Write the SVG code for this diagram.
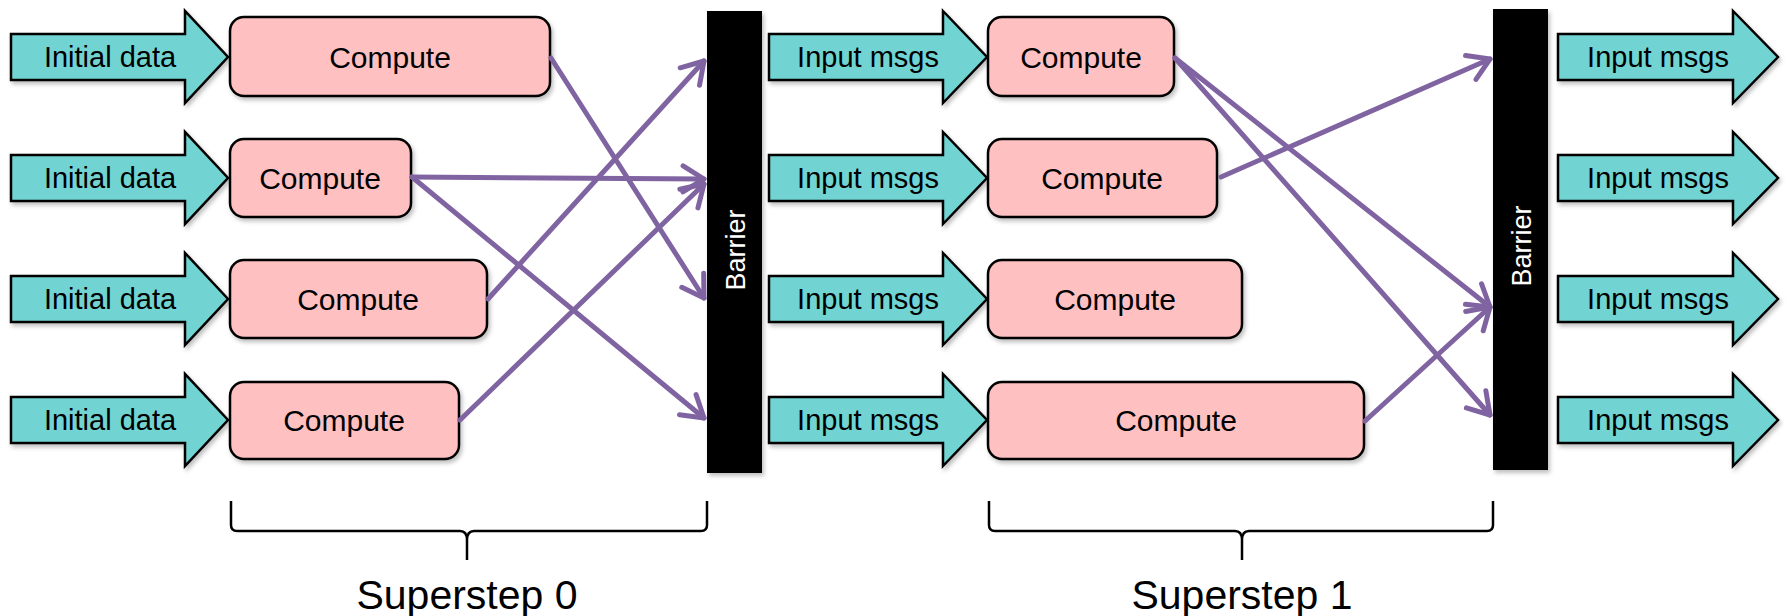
<svg xmlns="http://www.w3.org/2000/svg" width="1787" height="616" viewBox="0 0 1787 616">
<defs>
<style>
.arr{fill:#71d4d3;stroke:#000;stroke-width:2.5;stroke-linejoin:miter;filter:url(#sh)}
.box{fill:#fec0c0;stroke:#000;stroke-width:2.5;filter:url(#sh)}
.bar{fill:#000;filter:url(#sh)}
.lbl{font-family:"Liberation Sans",Arial,sans-serif;font-size:29px;fill:#000;text-anchor:middle}
.cmp{font-family:"Liberation Sans",Arial,sans-serif;font-size:30px;fill:#000;text-anchor:middle}
.btxt{font-family:"Liberation Sans",Arial,sans-serif;font-size:27px;fill:#fff;text-anchor:middle}
.ss{font-family:"Liberation Sans",Arial,sans-serif;font-size:41px;fill:#000;text-anchor:middle}
.con{stroke:#8064a2;stroke-width:5;fill:none;stroke-linecap:round;marker-end:url(#ah)}
.brace{stroke:#000;stroke-width:2.5;fill:none}
</style>
<filter id="sh" x="-10%" y="-10%" width="130%" height="130%">
<feDropShadow dx="2" dy="3" stdDeviation="2" flood-color="#000" flood-opacity="0.25"/>
</filter>
<marker id="ah" markerUnits="userSpaceOnUse" markerWidth="34" markerHeight="34" viewBox="-26 -17 30 34" refX="0" refY="0" orient="auto">
<path d="M-21,-13 L0,0 L-21,13" stroke="#8064a2" stroke-width="5" fill="none" stroke-linecap="round" stroke-linejoin="round"/>
</marker>
</defs>
<rect width="1787" height="616" fill="#fff"/>

<g id="in0-1"><polygon class="arr" points="11,34 185,34 185,11 228,57 185,103 185,80 11,80"/><text class="lbl" x="110" y="67">Initial data</text></g>
<g id="in0-2"><polygon class="arr" points="11,155 185,155 185,132 228,178 185,224 185,201 11,201"/><text class="lbl" x="110" y="188">Initial data</text></g>
<g id="in0-3"><polygon class="arr" points="11,276 185,276 185,253 228,299 185,345 185,322 11,322"/><text class="lbl" x="110" y="309">Initial data</text></g>
<g id="in0-4"><polygon class="arr" points="11,397 185,397 185,374 228,420 185,466 185,443 11,443"/><text class="lbl" x="110" y="430">Initial data</text></g>

<g id="c0-1"><rect class="box" x="230" y="17" width="320" height="79" rx="14"/><text class="cmp" x="390" y="68">Compute</text></g>
<g id="c0-2"><rect class="box" x="230" y="139" width="181" height="78" rx="14"/><text class="cmp" x="320" y="189">Compute</text></g>
<g id="c0-3"><rect class="box" x="230" y="260" width="257" height="78" rx="14"/><text class="cmp" x="358" y="310">Compute</text></g>
<g id="c0-4"><rect class="box" x="230" y="382" width="229" height="77" rx="14"/><text class="cmp" x="344" y="431">Compute</text></g>

<g id="barrier1"><rect class="bar" x="707" y="11" width="55" height="462"/><text class="btxt" transform="translate(745,250) rotate(-90)">Barrier</text></g>

<g id="in1-1"><polygon class="arr" points="769,34 943,34 943,11 987,57 943,103 943,80 769,80"/><text class="lbl" x="868" y="67">Input msgs</text></g>
<g id="in1-2"><polygon class="arr" points="769,155 943,155 943,132 987,178 943,224 943,201 769,201"/><text class="lbl" x="868" y="188">Input msgs</text></g>
<g id="in1-3"><polygon class="arr" points="769,276 943,276 943,253 987,299 943,345 943,322 769,322"/><text class="lbl" x="868" y="309">Input msgs</text></g>
<g id="in1-4"><polygon class="arr" points="769,397 943,397 943,374 987,420 943,466 943,443 769,443"/><text class="lbl" x="868" y="430">Input msgs</text></g>

<g id="c1-1"><rect class="box" x="988" y="17" width="186" height="79" rx="14"/><text class="cmp" x="1081" y="68">Compute</text></g>
<g id="c1-2"><rect class="box" x="988" y="139" width="229" height="78" rx="14"/><text class="cmp" x="1102" y="189">Compute</text></g>
<g id="c1-3"><rect class="box" x="988" y="260" width="254" height="78" rx="14"/><text class="cmp" x="1115" y="310">Compute</text></g>
<g id="c1-4"><rect class="box" x="988" y="382" width="376" height="77" rx="14"/><text class="cmp" x="1176" y="431">Compute</text></g>

<g id="barrier2"><rect class="bar" x="1493" y="9" width="55" height="461"/><text class="btxt" transform="translate(1531,246) rotate(-90)">Barrier</text></g>

<g id="in2-1"><polygon class="arr" points="1558,34 1733,34 1733,11 1778,57 1733,103 1733,80 1558,80"/><text class="lbl" x="1658" y="67">Input msgs</text></g>
<g id="in2-2"><polygon class="arr" points="1558,155 1733,155 1733,132 1778,178 1733,224 1733,201 1558,201"/><text class="lbl" x="1658" y="188">Input msgs</text></g>
<g id="in2-3"><polygon class="arr" points="1558,276 1733,276 1733,253 1778,299 1733,345 1733,322 1558,322"/><text class="lbl" x="1658" y="309">Input msgs</text></g>
<g id="in2-4"><polygon class="arr" points="1558,397 1733,397 1733,374 1778,420 1733,466 1733,443 1558,443"/><text class="lbl" x="1658" y="430">Input msgs</text></g>

<g id="connectors">
<line class="con" x1="551" y1="58" x2="704" y2="298"/>
<line class="con" x1="412" y1="177" x2="704" y2="179"/>
<line class="con" x1="412" y1="177" x2="704" y2="418"/>
<line class="con" x1="488" y1="299" x2="704" y2="61"/>
<line class="con" x1="460" y1="420" x2="704" y2="184"/>
<line class="con" x1="1175" y1="58" x2="1490" y2="307"/>
<line class="con" x1="1175" y1="58" x2="1490" y2="415"/>
<line class="con" x1="1221" y1="177" x2="1490" y2="59"/>
<line class="con" x1="1365" y1="421" x2="1490" y2="307"/>
</g>

<g id="brace0">
<path class="brace" d="M231,501 L231,525 Q231,531 237,531 L460,531 Q467,531 467,540 L467,560 M467,540 Q467,531 474,531 L701,531 Q707,531 707,525 L707,501"/>
<text class="ss" x="467" y="609">Superstep 0</text>
</g>
<g id="brace1">
<path class="brace" d="M989,501 L989,525 Q989,531 995,531 L1235,531 Q1242,531 1242,540 L1242,560 M1242,540 Q1242,531 1249,531 L1487,531 Q1493,531 1493,525 L1493,501"/>
<text class="ss" x="1242" y="609">Superstep 1</text>
</g>
</svg>
